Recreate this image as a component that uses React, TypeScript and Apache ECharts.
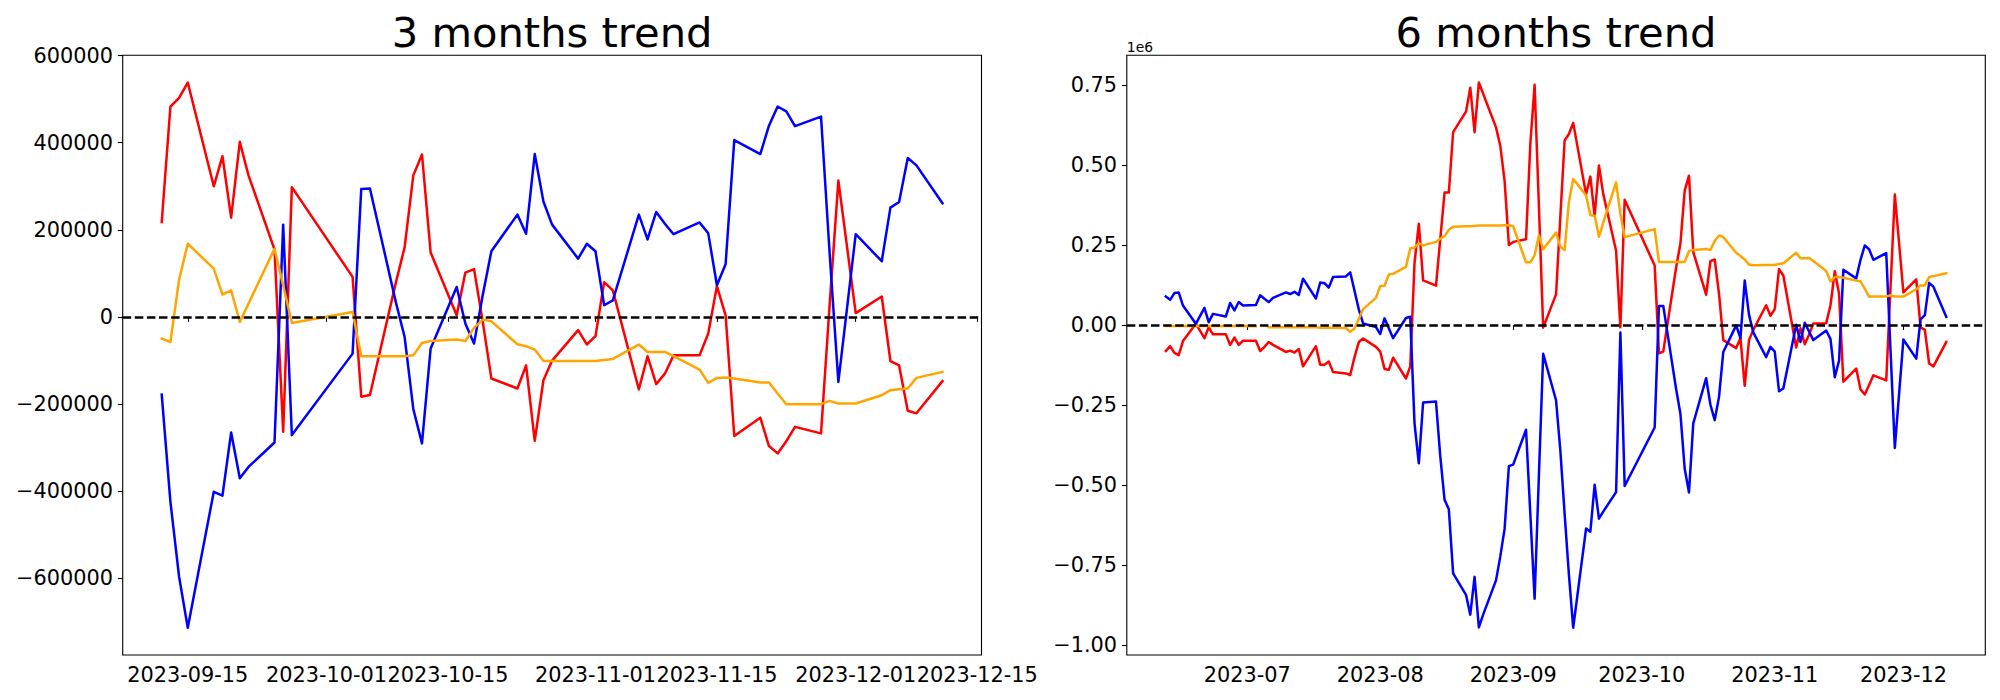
import React, { useEffect, useRef } from 'react';
import * as echarts from 'echarts';

// ---------- 3 months trend ----------
const dates3m = [
  '2023-09-12','2023-09-13','2023-09-14','2023-09-15','2023-09-18','2023-09-19','2023-09-20','2023-09-21','2023-09-22','2023-09-25','2023-09-26','2023-09-27',
  '2023-10-04','2023-10-05','2023-10-06','2023-10-09','2023-10-10','2023-10-11','2023-10-12','2023-10-13','2023-10-16','2023-10-17','2023-10-18','2023-10-19','2023-10-20','2023-10-23','2023-10-24','2023-10-25','2023-10-26','2023-10-27','2023-10-30','2023-10-31',
  '2023-11-01','2023-11-02','2023-11-03','2023-11-06','2023-11-07','2023-11-08','2023-11-09','2023-11-10','2023-11-13','2023-11-14','2023-11-15','2023-11-16','2023-11-17','2023-11-20','2023-11-21','2023-11-22','2023-11-23','2023-11-24','2023-11-27','2023-11-28','2023-11-29',
  '2023-12-01','2023-12-04','2023-12-05','2023-12-06','2023-12-07','2023-12-08','2023-12-11'
];
const red3m = [
  218000, 483000, 503000, 538000, 300000, 369000, 228000, 402000, 325000, 155000, -263000, 298000,
  92000, -183000, -179000, 80000, 160000, 325000, 373000, 148000, 4000, 102000, 110000, -10000, -141000, -164000, -111000, -284000, -145000, -100000, -30000, -63000,
  -44000, 80000, 61000, -166000, -90000, -154000, -130000, -88000, -88000, -38000, 71000, 4000, -273000, -231000, -296000, -313000, -285000, -252000, -267000, 30000, 313000,
  9000, 47000, -101000, -111000, -215000, -221000, -147000
];
const blue3m = [
  -178000, -424000, -596000, -713000, -401000, -410000, -265000, -370000, -344000, -288000, 212000, -271000,
  -84000, 294000, 295000, 33000, -46000, -211000, -290000, -72000, 69000, -15000, -61000, 50000, 151000, 235000, 191000, 374000, 265000, 212000, 134000, 168000,
  151000, 27000, 38000, 235000, 178000, 241000, 214000, 190000, 217000, 192000, 73000, 121000, 406000, 374000, 439000, 483000, 472000, 438000, 460000, 144000, -149000,
  190000, 128000, 251000, 264000, 365000, 348000, 261000
];
const orange3m = [
  -49500, -57300, 85700, 168200, 110900, 51300, 61200, -11500, 30700, 156700, 72600, -13700,
  11500, -90000, -90000, -90000, -90000, -88000, -59600, -55000, -51800, -55000, -25000, -6000, -9900, -62500, -67100, -74700, -100800, -101000, -101000, -101000,
  -100800, -98500, -96200, -63200, -80100, -80100, -80100, -90000, -120500, -151200, -139700, -138900, -141100, -150300, -150300, -175500, -200000, -200000, -200000, -192400, -198400,
  -198400, -179400, -167900, -165600, -164000, -139700, -126000
];
const xTicks3m = ['2023-09-15', '2023-10-01', '2023-10-15', '2023-11-01', '2023-11-15', '2023-12-01', '2023-12-15'];
const yTicks3m = [-600000, -400000, -200000, 0, 200000, 400000, 600000];

// ---------- 6 months trend ----------
const dates6m = [
  '2023-06-12','2023-06-13','2023-06-14','2023-06-15','2023-06-16','2023-06-19','2023-06-20','2023-06-21','2023-06-22','2023-06-23','2023-06-26','2023-06-27','2023-06-28','2023-06-29','2023-06-30',
  '2023-07-03','2023-07-04','2023-07-05','2023-07-06','2023-07-07','2023-07-10','2023-07-11','2023-07-12','2023-07-13','2023-07-14','2023-07-17','2023-07-18','2023-07-19','2023-07-20','2023-07-21','2023-07-24','2023-07-25','2023-07-26','2023-07-27','2023-07-28','2023-07-31',
  '2023-08-01','2023-08-02','2023-08-03','2023-08-04','2023-08-07','2023-08-08','2023-08-09','2023-08-10','2023-08-11','2023-08-14','2023-08-15','2023-08-16','2023-08-17','2023-08-18','2023-08-21','2023-08-22','2023-08-23','2023-08-24','2023-08-25','2023-08-28','2023-08-29','2023-08-30','2023-08-31',
  '2023-09-01','2023-09-04','2023-09-05','2023-09-06','2023-09-07','2023-09-08','2023-09-11','2023-09-12','2023-09-13','2023-09-14','2023-09-15','2023-09-18','2023-09-19','2023-09-20','2023-09-21','2023-09-22','2023-09-25','2023-09-26','2023-09-27',
  '2023-10-04','2023-10-05','2023-10-06','2023-10-09','2023-10-10','2023-10-11','2023-10-12','2023-10-13','2023-10-16','2023-10-17','2023-10-18','2023-10-19','2023-10-20','2023-10-23','2023-10-24','2023-10-25','2023-10-26','2023-10-27','2023-10-30','2023-10-31',
  '2023-11-01','2023-11-02','2023-11-03','2023-11-06','2023-11-07','2023-11-08','2023-11-09','2023-11-10','2023-11-13','2023-11-14','2023-11-15','2023-11-16','2023-11-17','2023-11-20','2023-11-21','2023-11-22','2023-11-23','2023-11-24','2023-11-27','2023-11-28','2023-11-29',
  '2023-12-01','2023-12-04','2023-12-05','2023-12-06','2023-12-07','2023-12-08','2023-12-11'
];
const red6m = [
  -81000, -66000, -87000, -94000, -50000, 4000, -18000, -41000, -7000, -29000, -29000, -62000, -39000, -62000, -49000,
  -49000, -81000, -68000, -53000, -62000, -84000, -80000, -86000, -75000, -129000, -66000, -124000, -124000, -114000, -147000, -151000, -156000, -100000, -53000, -42000, -68000,
  -83000, -137000, -140000, -102000, -167000, -129000, 195000, 317000, 140000, 123000, 269000, 414000, 414000, 603000, 667000, 742000, 603000, 758000, 723000, 618000, 560000, 451000, 250000,
  260000, 268000, 566000, 751000, 372000, -8000, 96000, 338000, 577000, 597000, 632000, 409000, 464000, 340000, 499000, 410000, 232000, -7000, 392000,
  186000, -88000, -83000, 180000, 255000, 420000, 467000, 228000, 95000, 200000, 205000, 98000, -47000, -72000, -41000, -190000, -47000, -15000, 62000, 29000,
  50000, 175000, 155000, -70000, -10000, -60000, -30000, 5000, 6000, 62000, 168000, 98000, -177000, -136000, -201000, -217000, -187000, -157000, -173000, 118000, 408000,
  102000, 143000, -7000, -15000, -120000, -129000, -53000
];
const blue6m = [
  89000, 79000, 100000, 102000, 61000, 4000, 29000, 54000, 9000, 35000, 27000, 69000, 46000, 72000, 61000,
  63000, 93000, 82000, 72000, 85000, 102000, 97000, 104000, 94000, 145000, 83000, 133000, 131000, 117000, 150000, 152000, 165000, 107000, 49000, 5000, -6000,
  -28000, 21000, -10000, -41000, 22000, 26000, -308000, -432000, -242000, -239000, -410000, -546000, -576000, -776000, -843000, -905000, -787000, -945000, -905000, -798000, -723000, -637000, -441000,
  -436000, -327000, -590000, -855000, -470000, -90000, -235000, -392000, -590000, -780000, -946000, -636000, -646000, -499000, -605000, -583000, -522000, -23000, -503000,
  -320000, 60000, 60000, -200000, -277000, -449000, -523000, -307000, -166000, -249000, -297000, -225000, -84000, -1000, -41000, 139000, 32000, -23000, -100000, -68000,
  -83000, -207000, -198000, 1000, -53000, 7000, -20000, -47000, -17000, -44000, -163000, -111000, 173000, 146000, 204000, 249000, 237000, 204000, 225000, -79000, -384000,
  -45000, -105000, 18000, 31000, 132000, 120000, 26000
];
const orange6m = [
  -3000, -3000, -3000, -3000, -3000, -3000, -3000, -3000, -3000, -3000, -3000, -3000, -3000, -3000, -3000,
  -4000, null, null, -7000, -7000, -7000, -7000, -7000, -7000, -7000, -7000, -8000, -8000, -8000, -8000, -9000, -21000, -11000, 19000, 50000, 85000,
  122000, 123000, 158000, 160000, 182000, 240000, 242000, 256000, 249000, 260000, 270000, 278000, 298000, 307000, 309000, 309000, 310000, 311000, 311000, 311000, 311000, 312000, 312000,
  309000, 196000, 196000, 218000, 280000, 237000, 289000, 245000, 235000, 385000, 457000, 405000, 344000, 342000, 276000, 320000, 446000, 348000, 275000,
  300000, 197000, 197000, 197000, 197000, 197000, 231000, 235000, 238000, 235000, 263000, 280000, 275000, 226000, 216000, 205000, 189000, 187000, 188000, 188000,
  188000, 191000, 193000, 226000, 209000, 209000, 210000, 200000, 169000, 136000, 150000, 150000, 148000, 139000, 137000, 113000, 89000, 89000, 89000, 93000, 89000,
  89000, 112000, 124000, 124000, 150000, 153000, 162000
];
const xTicks6m = ['2023-07-01', '2023-08-01', '2023-09-01', '2023-10-01', '2023-11-01', '2023-12-01'];
const yTicks6m = [-1000000, -750000, -500000, -250000, 0, 250000, 500000, 750000];

const titles = ['3 months trend', '6 months trend'];
const offsetText6m = '1e6';

// ---------- helpers ----------
const FONT_NAME = 'DejaVu Sans';
const DAY = 86400000;
// dates -> UTC timestamps (ms); used as numeric x values on a value axis
const toTs = (s: string): number => {
  const [y, m, d] = s.split('-').map(Number);
  return Date.UTC(y, m - 1, d);
};
const two = (n: number) => (n < 10 ? '0' + n : String(n));
const fmtDay = (v: number) => {
  const d = new Date(Math.round(v / DAY) * DAY);
  return `${d.getUTCFullYear()}-${two(d.getUTCMonth() + 1)}-${two(d.getUTCDate())}`;
};
const fmtMonth = (v: number) => {
  const d = new Date(Math.round(v / DAY) * DAY);
  return `${d.getUTCFullYear()}-${two(d.getUTCMonth() + 1)}`;
};
const uminus = (s: string) => s.replace('-', '\u2212');
const padMin = (v: { min: number; max: number }) => v.min - 0.05 * (v.max - v.min);
const padMax = (v: { min: number; max: number }) => v.max + 0.05 * (v.max - v.min);

const GRIDS = [
  { left: 122.7, top: 55.3, width: 858.8, height: 599.7 },
  { left: 1126.8, top: 55.3, width: 858.5, height: 599.7 },
];
const LABEL_PX = 20.83;
const TICK_LEN = 4.86;
const LINE_W = 2.5;

function makeAxis(dim: 'x' | 'y', idx: number, ticks: number[], fmt: (v: number) => string) {
  return {
    type: 'value',
    gridIndex: idx,
    scale: true,
    min: padMin,
    max: padMax,
    axisLine: { show: false },
    axisTick: { show: true, inside: false, length: TICK_LEN, lineStyle: { color: '#000', width: 1.11 }, customValues: ticks },
    axisLabel: {
      show: true, margin: 9.72, color: '#000', fontSize: LABEL_PX, fontFamily: FONT_NAME,
      customValues: ticks, formatter: (v: number) => fmt(v), hideOverlap: false,
    },
    splitLine: { show: false },
    minorTick: { show: false },
  };
}
function lineSeries(idx: number, dates: string[], vals: (number | null)[], color: string) {
  return {
    type: 'line',
    xAxisIndex: idx,
    yAxisIndex: idx,
    data: dates.map((d, k) => [toTs(d), vals[k] === null ? '-' : vals[k]]),
    showSymbol: false,
    symbol: 'none',
    connectNulls: false,
    silent: true,
    z: 2,
    lineStyle: { color, width: LINE_W, join: 'round', cap: 'square' },
    itemStyle: { color },
    emphasis: { disabled: true },
  };
}
function zeroLine(idx: number, firstDate: string) {
  return {
    type: 'line',
    xAxisIndex: idx,
    yAxisIndex: idx,
    data: [[toTs(firstDate), 0]],
    showSymbol: false,
    symbol: 'none',
    silent: true,
    z: 5,
    lineStyle: { opacity: 0 },
    markLine: {
      silent: true,
      symbol: ['none', 'none'],
      label: { show: false },
      emphasis: { disabled: true },
      lineStyle: { color: '#000', width: LINE_W, type: [8.5, 3.6] },
      data: [{ yAxis: 0 }],
    },
  };
}

export default function App() {
  const ref = useRef<HTMLDivElement>(null);
  useEffect(() => {
    if (!ref.current) return;
    const chart = echarts.init(ref.current, undefined, { renderer: 'svg' });
    const option: any = {
      animation: false,
      backgroundColor: '#fff',
      grid: GRIDS.map((g) => ({
        ...g,
        show: true,
        borderColor: '#000',
        borderWidth: 1.11,
        backgroundColor: '#fff',
        containLabel: false,
        outerBoundsMode: 'none',
      })),
      xAxis: [
        makeAxis('x', 0, xTicks3m.map(toTs), fmtDay),
        makeAxis('x', 1, xTicks6m.map(toTs), fmtMonth),
      ],
      yAxis: [
        makeAxis('y', 0, yTicks3m, (v) => uminus(String(Math.round(v)))),
        makeAxis('y', 1, yTicks6m, (v) => uminus((v / 1e6).toFixed(2))),
      ],
      series: [
        lineSeries(0, dates3m, red3m, '#ff0000'),
        lineSeries(0, dates3m, blue3m, '#0000ff'),
        lineSeries(0, dates3m, orange3m, '#ffa500'),
        zeroLine(0, dates3m[0]),
        lineSeries(1, dates6m, red6m, '#ff0000'),
        lineSeries(1, dates6m, blue6m, '#0000ff'),
        lineSeries(1, dates6m, orange6m, '#ffa500'),
        zeroLine(1, dates6m[0]),
      ],
      graphic: {
        elements: [
          {
            type: 'text', x: GRIDS[0].left + GRIDS[0].width / 2, y: 32.6, silent: true,
            style: { text: titles[0], fill: '#000', font: `41.67px "${FONT_NAME}"`, textAlign: 'center', align: 'center', textVerticalAlign: 'middle', verticalAlign: 'middle' },
          },
          {
            type: 'text', x: GRIDS[1].left + GRIDS[1].width / 2, y: 32.6, silent: true,
            style: { text: titles[1], fill: '#000', font: `41.67px "${FONT_NAME}"`, textAlign: 'center', align: 'center', textVerticalAlign: 'middle', verticalAlign: 'middle' },
          },
          {
            type: 'text', x: GRIDS[1].left, y: 46.9, silent: true,
            style: { text: offsetText6m, fill: '#000', font: `13.89px "${FONT_NAME}"`, textAlign: 'left', align: 'left', textVerticalAlign: 'middle', verticalAlign: 'middle' },
          },
        ],
      },
    };
    chart.setOption(option);
    return () => chart.dispose();
  }, []);
  return (
    <div
      ref={ref}
      style={{ position: 'absolute', left: 0, top: 0, width: 2000, height: 700, background: '#fff' }}
    />
  );
}
